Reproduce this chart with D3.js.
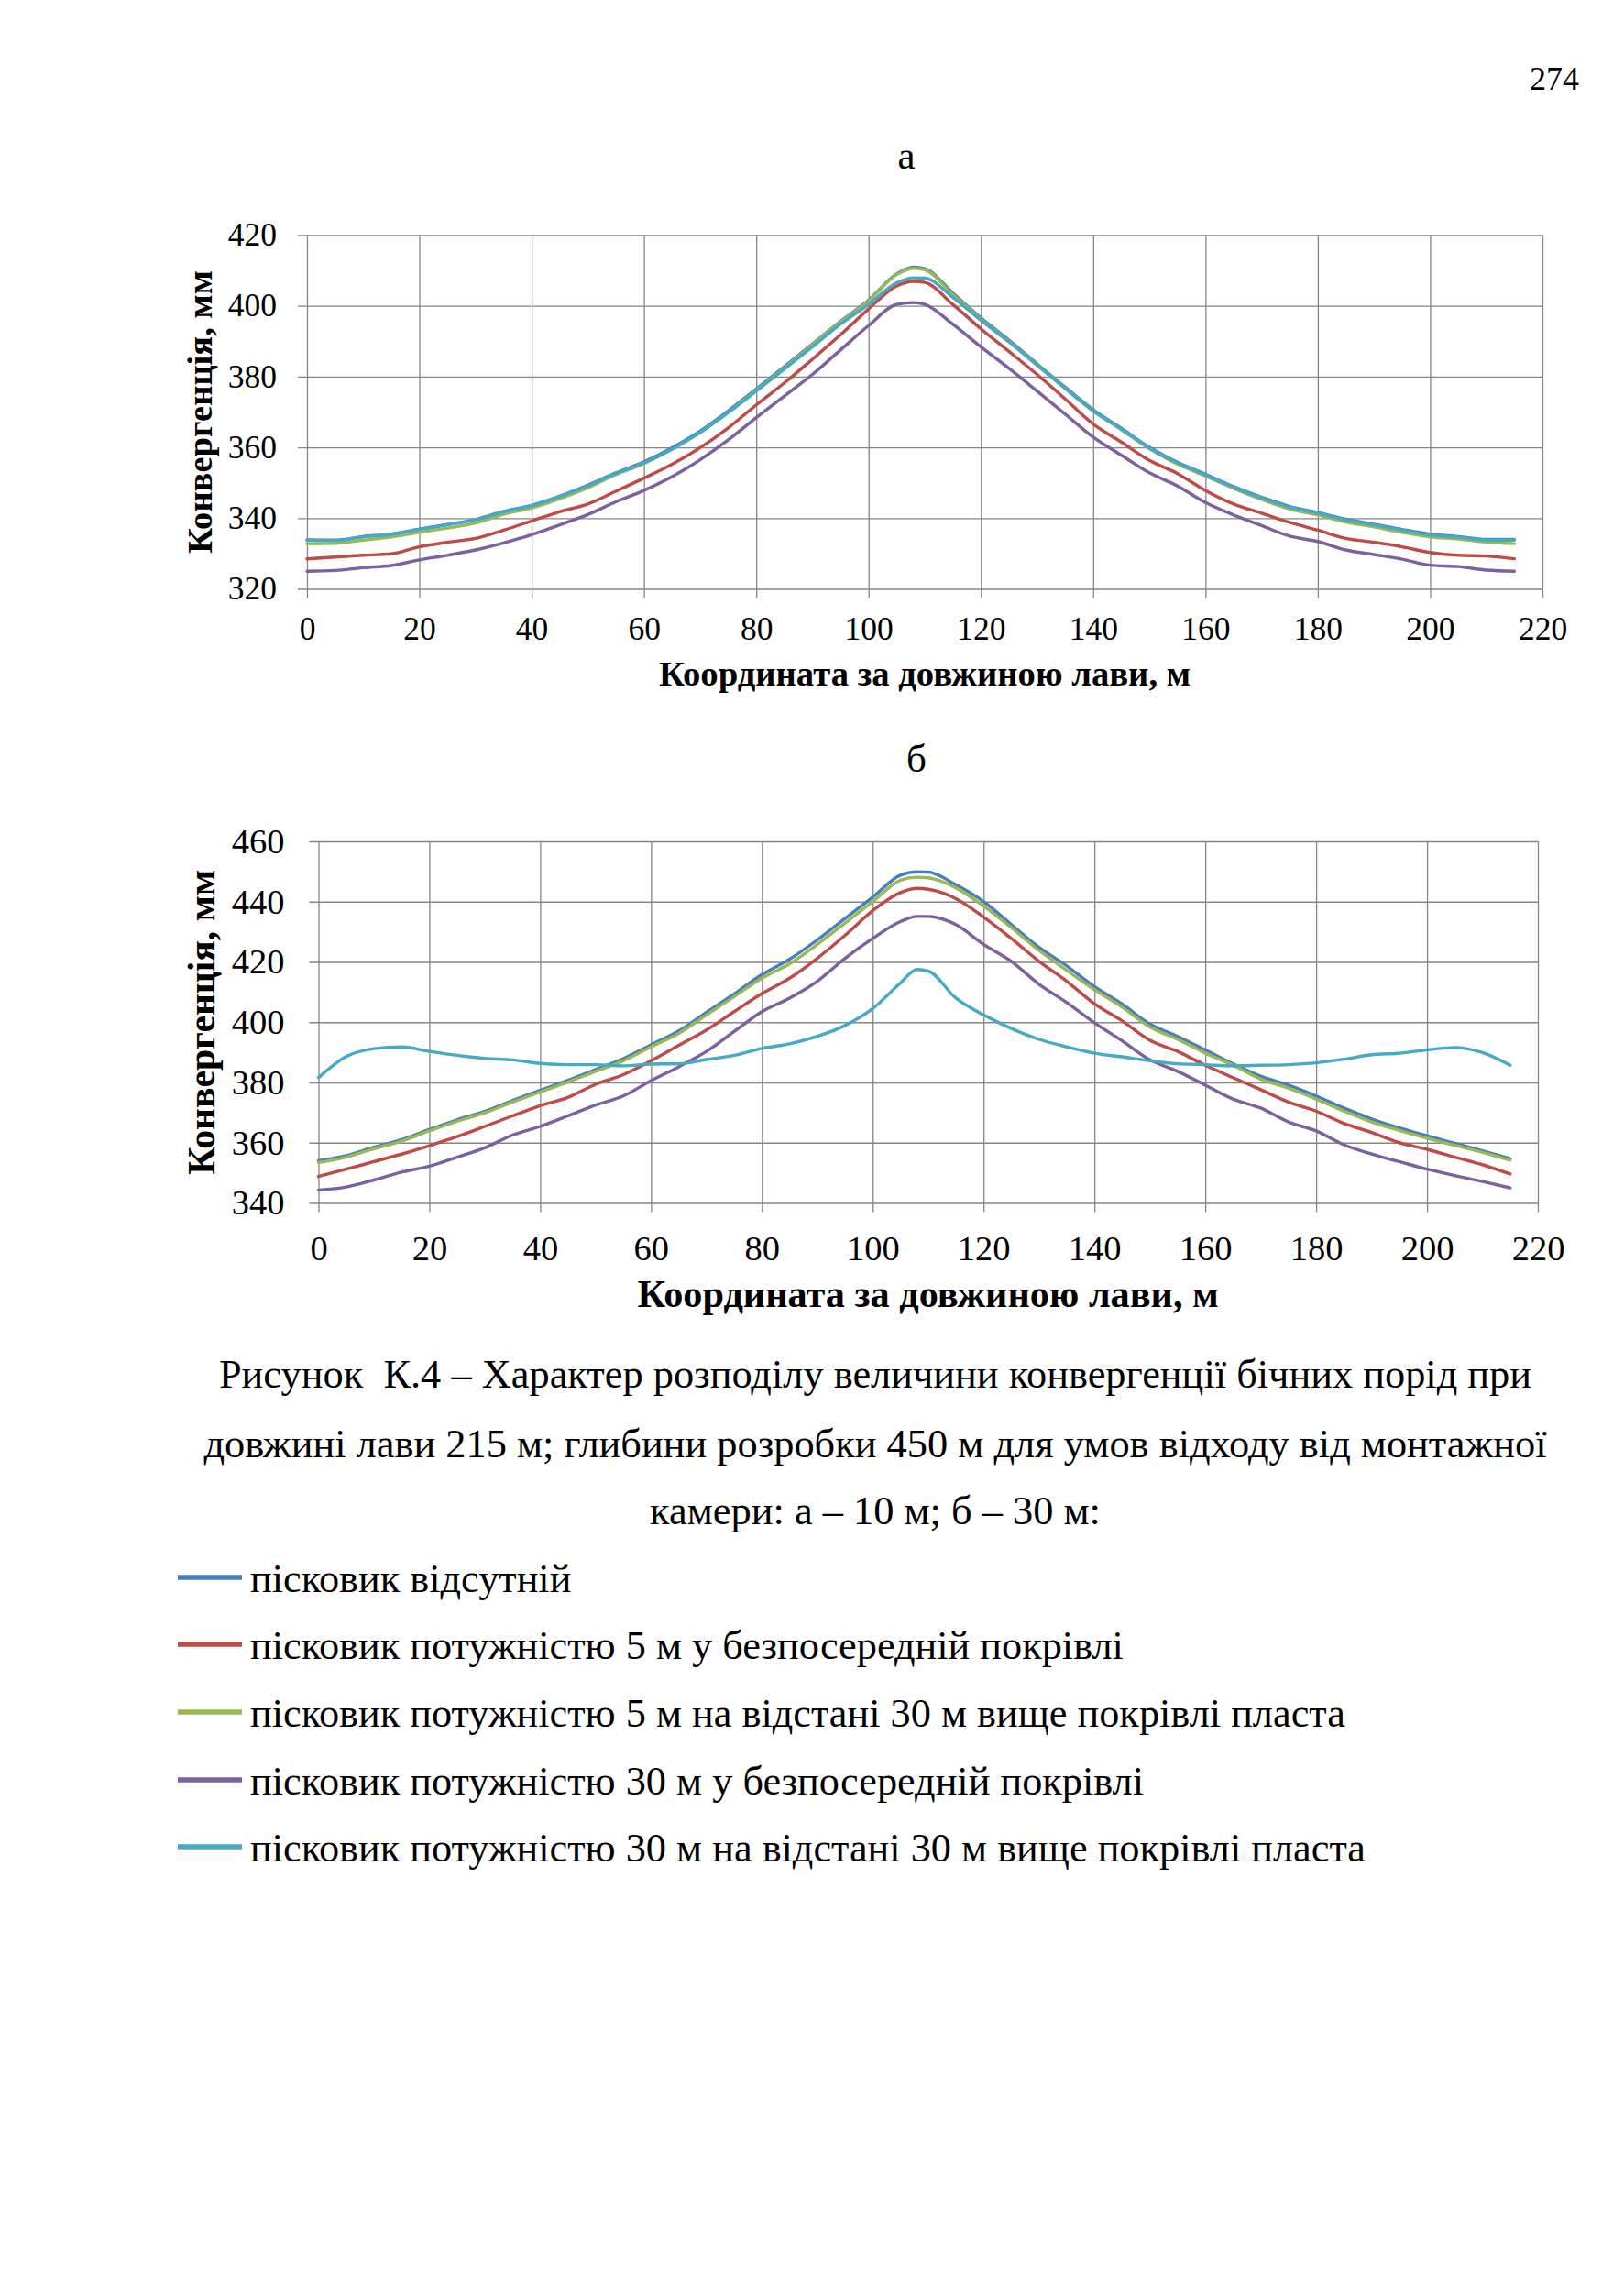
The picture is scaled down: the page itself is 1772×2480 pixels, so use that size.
<!DOCTYPE html>
<html>
<head>
<meta charset="utf-8">
<script src="https://cdn.jsdelivr.net/npm/d3@7"></script>
<style>
  html, body { margin: 0; padding: 0; background: #fff; }
  svg { display: block; }
  text { font-family: "Liberation Serif", "Times New Roman", serif; fill: #000; }
</style>
</head>
<body>
<svg id="page" width="1772" height="2480"></svg>
<script>
// ---------------- DATA ----------------
const xCoords = [0,5,10,15,20,25,30,35,40,45,50,55,60,65,70,75,80,85,90,95,100,105,108,110,115,120,125,130,135,140,145,150,155,160,165,170,175,180,185,190,195,200,205,210,215];
const xTicks = [0,20,40,60,80,100,120,140,160,180,200,220];
const yTicksA = [320,340,360,380,400,420];
const yTicksB = [340,360,380,400,420,440,460];

const seriesNames = [
  "пісковик відсутній",
  "пісковик потужністю 5 м у безпосередній покрівлі",
  "пісковик потужністю 5 м на відстані 30 м вище покрівлі пласта",
  "пісковик потужністю 30 м у безпосередній покрівлі",
  "пісковик потужністю 30 м на відстані 30 м вище покрівлі пласта"
];

// chart а (10 m)
const aBlue   = [333.9,333.8,334.8,335.5,336.9,338.2,339.6,341.9,343.6,346.2,349.3,352.8,355.9,359.9,364.6,370.3,376.5,382.8,389.2,395.6,401.6,409.0,410.9,410.5,403.6,396.6,390.3,383.6,377.0,370.6,365.4,360.0,355.8,352.4,348.9,345.9,343.3,341.6,339.7,338.3,336.8,335.5,334.8,334.0,334.0];
const aRed    = [328.5,329.0,329.5,329.9,331.9,333.2,334.3,336.6,339.2,341.8,344.0,347.6,351.3,355.2,359.9,365.5,372.0,378.2,384.9,391.8,399.1,405.6,406.9,406.6,400.4,393.5,387.1,380.6,373.7,366.6,361.5,356.3,352.6,347.8,344.0,341.4,338.8,336.6,334.3,333.2,331.9,330.3,329.5,329.3,328.5];
const aGreen  = [332.8,332.9,333.8,334.7,336.0,337.2,338.6,341.1,342.9,345.5,348.6,352.3,355.4,359.4,364.2,369.9,376.2,382.4,389.0,395.4,401.3,408.8,410.6,410.2,403.2,396.2,390.0,383.3,376.7,370.3,365.0,359.6,355.3,351.9,348.4,345.3,342.6,340.9,338.9,337.5,336.0,334.7,334.1,333.2,332.8];
const aPurple = [325.0,325.2,326.0,326.6,328.2,329.5,331.0,333.0,335.3,338.1,341.0,344.6,347.8,351.7,356.5,362.1,368.4,374.5,380.6,387.5,394.4,400.4,400.9,400.4,394.8,388.4,382.3,375.9,369.4,362.9,357.8,352.8,349.1,344.4,340.9,337.9,334.9,333.4,331.0,329.7,328.4,326.7,326.3,325.3,325.0];
const aCyan   = [333.8,333.7,334.7,335.4,336.8,338.1,339.5,341.8,343.5,346.1,349.1,352.6,355.6,359.5,364.2,369.8,375.9,382.1,388.4,394.8,400.4,406.5,407.9,407.8,402.4,395.9,389.8,383.2,376.7,370.3,365.2,359.8,355.6,352.2,348.7,345.7,343.1,341.4,339.5,338.1,336.6,335.3,334.6,333.8,333.8];

// chart б (30 m)
const bBlue   = [354.0,355.7,358.5,361.0,364.4,367.6,370.4,374.0,377.4,380.7,384.3,387.9,392.5,397.1,403.3,409.4,415.8,420.9,427.3,434.4,441.5,448.8,449.9,449.8,445.6,440.0,432.4,424.8,418.7,411.8,406.0,399.4,395.3,390.8,386.2,382.1,379.1,375.5,371.5,367.9,364.9,362.3,359.8,357.3,354.7];
const bRed    = [348.8,351.2,353.7,356.2,359.0,362.0,365.4,368.9,372.3,375.0,379.4,382.6,387.2,392.3,397.4,403.5,409.5,414.6,421.2,428.8,437.0,443.0,444.4,444.1,441.0,434.9,427.8,420.2,413.6,406.1,400.4,394.0,390.3,385.7,381.6,377.6,373.5,370.5,366.4,363.4,360.0,357.8,355.2,352.7,349.6];
const bGreen  = [353.4,355.2,358.0,360.5,363.9,367.1,369.9,373.5,376.8,380.1,383.7,387.2,391.8,396.3,402.4,408.5,414.6,419.4,425.8,432.9,440.0,447.1,448.1,447.9,444.6,438.5,431.4,423.8,417.2,410.8,405.0,398.4,394.3,389.7,385.7,381.1,378.1,374.5,370.5,366.9,364.1,361.5,359.1,356.8,354.2];
const bPurple = [344.3,345.3,347.6,350.2,352.2,355.2,358.3,362.5,365.4,368.9,372.5,375.5,380.6,385.2,390.3,396.9,403.5,408.0,413.6,421.2,427.8,433.4,435.1,435.1,432.4,425.8,420.2,412.6,406.5,399.8,393.8,387.5,383.7,379.1,374.5,371.5,366.9,363.9,359.3,356.2,353.7,351.2,349.1,347.1,345.0];
const bCyan   = [381.6,388.6,391.2,391.8,390.3,389.0,388.0,387.5,386.3,385.9,385.9,385.5,386.1,386.2,387.6,389.0,391.3,392.8,395.3,398.9,404.5,413.0,417.5,417.0,408.0,402.4,397.9,394.3,391.8,389.7,388.5,387.2,386.2,385.9,385.5,385.7,385.9,386.5,387.7,389.2,389.7,390.8,391.6,389.9,385.7];

// styles
const seriesColors = ["#4a7ebb", "#be4b48", "#98b954", "#7d60a0", "#46aac5"];

// ---------------- DRAW ----------------
const svg = d3.select("#page");
svg.append("rect").attr("width", 1772).attr("height", 2480).attr("fill", "#fff");

function drawChart(cfg) {
  const x = d3.scaleLinear().domain([0, 220]).range([cfg.left, cfg.right]);
  const y = d3.scaleLinear().domain(cfg.yDomain).range([cfg.bottom, cfg.top]);
  const w = cfg.right - cfg.left, h = cfg.bottom - cfg.top;
  const g = svg.append("g");

  // y axis with gridlines
  const ya = g.append("g").attr("transform", `translate(${cfg.left},0)`)
    .call(d3.axisLeft(y).tickValues(cfg.yTicks).tickSizeInner(-w).tickSizeOuter(0).tickPadding(cfg.yPad));
  ya.select(".domain").remove();
  ya.selectAll(".tick line").attr("x1", -10).attr("stroke", "#868686").attr("stroke-width", 1.3);
  ya.selectAll(".tick text").attr("font-size", cfg.tickFont).attr("fill", "#000");

  // x axis with gridlines
  const xa = g.append("g").attr("transform", `translate(0,${cfg.bottom})`)
    .call(d3.axisBottom(x).tickValues(xTicks).tickSizeInner(-h).tickSizeOuter(0));
  xa.select(".domain").remove();
  xa.selectAll(".tick line").attr("y1", 10).attr("stroke", "#868686").attr("stroke-width", 1.3);
  xa.selectAll(".tick text").attr("dy", null).attr("y", cfg.xLabelY)
    .attr("font-size", cfg.tickFont).attr("fill", "#000");

  // lines
  const line = d3.line().x(d => x(d[0])).y(d => y(d[1])).curve(d3.curveMonotoneX);
  cfg.series.forEach((vals, i) => {
    const pts = xCoords.map((xv, j) => [xv, vals[j]]);
    g.append("path").datum(pts).attr("d", line)
      .attr("fill", "none").attr("stroke", seriesColors[i])
      .attr("stroke-width", 3.4).attr("stroke-linejoin", "round").attr("stroke-linecap", "round");
  });

  // axis titles
  g.append("text").attr("x", (cfg.left + cfg.right) / 2).attr("y", cfg.xTitleY)
    .attr("text-anchor", "middle").attr("font-weight", "bold").attr("font-size", cfg.xTitleFont)
    .text("Координата за довжиною лави, м");
  g.append("text")
    .attr("transform", `translate(${cfg.yTitleX},${(cfg.top + cfg.bottom) / 2}) rotate(-90)`)
    .attr("text-anchor", "middle").attr("font-weight", "bold").attr("font-size", cfg.yTitleFont)
    .text("Конвергенція, мм");

  // panel letter
  svg.append("text").attr("x", cfg.letterX).attr("y", cfg.letterY).attr("text-anchor", "middle")
    .attr("font-size", 43).text(cfg.letter);
}

drawChart({
  left: 335, right: 1683, top: 256.4, bottom: 642.5,
  yDomain: [320, 420], yTicks: yTicksA, yPad: 33, tickFont: 35.5,
  xLabelY: 55.5, xTitleY: 748, yTitleX: 231, xTitleFont: 38.7, yTitleFont: 38.6,
  series: [aBlue, aRed, aGreen, aPurple, aCyan],
  letter: "а", letterX: 989, letterY: 184
});

drawChart({
  left: 347.5, right: 1678, top: 918, bottom: 1312.5,
  yDomain: [340, 460], yTicks: yTicksB, yPad: 37, tickFont: 38.5,
  xLabelY: 62.5, xTitleY: 1426, yTitleX: 234, xTitleFont: 42.3, yTitleFont: 41.6,
  series: [bBlue, bRed, bGreen, bPurple, bCyan],
  letter: "б", letterX: 1000, letterY: 842
});

// page number
svg.append("text").attr("x", 1723).attr("y", 98).attr("text-anchor", "end").attr("font-size", 36).text("274");

// caption
const captionLines = [
  "Рисунок  К.4 – Характер розподілу величини конвергенції бічних порід при",
  "довжині лави 215 м; глибини розробки 450 м для умов відходу від монтажної",
  "камери: а – 10 м; б – 30 м:"
];
const capY = [1514, 1590, 1663];
captionLines.forEach((t, i) => {
  svg.append("text").attr("x", 955).attr("y", capY[i]).attr("text-anchor", "middle")
    .attr("font-size", 44.4).attr("xml:space", "preserve").style("white-space", "pre").text(t);
});

// legend
const legY = [1721, 1794, 1868, 1942, 2015];
seriesNames.forEach((name, i) => {
  svg.append("line").attr("x1", 194).attr("x2", 264).attr("y1", legY[i]).attr("y2", legY[i])
    .attr("stroke", seriesColors[i]).attr("stroke-width", 5.5);
  svg.append("text").attr("x", 273).attr("y", legY[i] + 16).attr("font-size", 44.3).text(name);
});
</script>
</body>
</html>
